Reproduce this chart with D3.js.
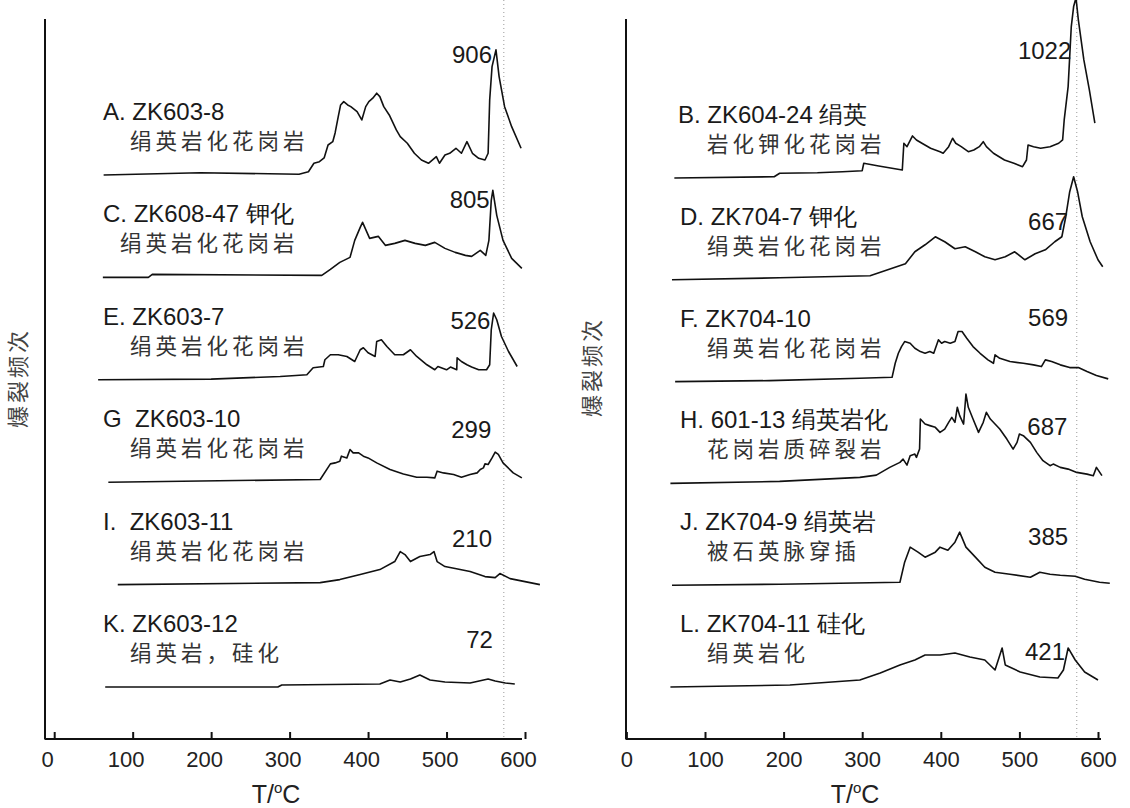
<!DOCTYPE html>
<html>
<head>
<meta charset="utf-8">
<script src="https://cdn.jsdelivr.net/npm/d3@7"></script>
<style>
  body { margin: 0; background: #fff; }
  text { font-family: "Liberation Sans", Arial, sans-serif; white-space: pre; }
  .cjk { font-family: "Noto Sans CJK SC", sans-serif; }
</style>
</head>
<body>
<svg id="chart" width="1130" height="808"></svg>
<script>
// decrepitation curves: [temperature °C, count]
var seriesA = [[63,0],[186,16],[312,5],[324,23],[331,82],[338,93],[344,119],[349,210],[355,233],[358,294],[362,408],[365,490],[369,513],[374,490],[378,478],[386,443],[392,385],[397,478],[401,513],[406,537],[411,572],[415,548],[420,478],[427,420],[436,315],[441,268],[450,222],[459,152],[468,105],[477,82],[487,128],[491,82],[498,140],[504,152],[512,187],[519,152],[526,233],[533,152],[541,117],[549,105],[553,152],[555,525],[558,758],[563,875],[567,688],[574,478],[583,338],[595,187]];
var seriesC = [[62,0],[120,0],[125,21],[341,14],[352,56],[364,105],[377,140],[383,259],[390,350],[393,385],[402,273],[413,287],[422,224],[434,238],[447,259],[460,238],[473,224],[485,245],[498,203],[511,175],[524,154],[532,147],[543,189],[550,154],[554,259],[557,539],[559,609],[564,434],[572,259],[583,133],[596,63]];
var seriesE = [[56,0],[200,5],[288,23],[303,28],[322,35],[330,84],[343,93],[345,140],[352,175],[362,175],[373,163],[383,128],[390,210],[394,224],[400,189],[409,163],[411,268],[417,280],[424,233],[434,175],[445,175],[454,210],[462,163],[475,105],[485,70],[489,93],[500,70],[505,89],[513,70],[513.5,154],[519,128],[526,105],[532,89],[541,70],[551,70],[555,105],[557,350],[560,467],[564,420],[570,303],[579,198],[590,93]];
var seriesG = [[69,0],[339,19],[352,128],[358,135],[364,147],[366,182],[373,170],[377,229],[381,205],[388,205],[394,182],[400,170],[411,135],[428,89],[445,58],[462,35],[475,35],[485,30],[488,77],[496,65],[509,54],[519,35],[530,54],[539,65],[543,89],[547,100],[549,128],[553,124],[558,170],[562,210],[566,194],[572,135],[585,65],[596,30]];
var seriesI = [[81,0],[339,14],[364,35],[390,70],[415,105],[434,161],[441,231],[447,210],[454,161],[466,196],[479,210],[484,231],[488,161],[498,126],[511,112],[530,91],[549,56],[562,49],[568,77],[581,42],[600,21],[619,0]];
var seriesK = [[65,0],[285,0],[290,14],[415,21],[428,49],[441,35],[454,56],[466,84],[479,49],[498,35],[530,28],[553,56],[562,42],[575,28],[587,21]];

var seriesB = [[61,0],[188,9],[195,33],[243,37],[275,44],[300,51],[302,103],[321,84],[351,56],[353,243],[357,219],[364,294],[369,266],[376,243],[387,208],[399,184],[403,173],[410,219],[415,278],[419,243],[426,219],[435,184],[442,196],[449,219],[454,254],[458,219],[467,173],[481,126],[493,103],[504,79],[509,126],[511,231],[518,219],[527,208],[539,219],[550,243],[555,266],[557,406],[562,639],[564,849],[566,1059],[569,1199],[572,1260],[575,1106],[582,826],[589,616],[596,383]];
var seriesD = [[58,0],[195,14],[310,28],[355,112],[367,196],[380,245],[393,301],[405,266],[418,217],[431,231],[444,196],[456,161],[469,140],[482,161],[494,196],[507,140],[520,182],[533,210],[545,266],[554,301],[559,441],[564,616],[569,721],[574,616],[580,441],[590,266],[600,140],[606,91]];
var seriesF = [[62,0],[182,7],[297,23],[338,30],[342,128],[346,198],[350,245],[354,280],[361,268],[367,233],[374,210],[380,198],[386,210],[391,198],[397,292],[401,268],[405,280],[412,268],[418,280],[422,350],[427,350],[433,303],[441,245],[450,198],[460,152],[467,128],[469,187],[475,163],[488,140],[505,128],[518,117],[528,105],[533,152],[541,140],[552,117],[564,98],[575,98],[586,70],[598,42],[613,19]];
var seriesH = [[56,0],[195,14],[297,42],[318,58],[335,112],[348,147],[352,170],[357,128],[361,194],[367,205],[369,182],[373,240],[374,450],[380,415],[386,404],[393,392],[399,357],[405,380],[410,427],[414,462],[418,427],[421,532],[424,474],[429,415],[432,625],[435,532],[441,450],[448,357],[454,427],[458,497],[463,450],[469,415],[475,380],[484,310],[492,240],[497,287],[500,345],[505,334],[514,287],[522,217],[530,159],[539,124],[543,135],[552,112],[562,100],[573,77],[586,65],[594,54],[598,112],[605,54]];
var seriesJ = [[58,0],[195,7],[348,21],[354,161],[361,266],[371,231],[380,196],[393,231],[399,266],[409,245],[418,301],[424,371],[432,266],[444,196],[456,126],[469,91],[488,77],[514,56],[526,91],[539,77],[552,70],[571,63],[583,42],[602,21],[615,14]];
var seriesL = [[56,0],[208,14],[297,49],[323,98],[348,154],[367,189],[380,224],[399,224],[418,238],[437,210],[456,189],[469,119],[478,273],[482,154],[501,105],[526,70],[549,63],[556,119],[562,273],[571,189],[583,105],[600,49]];

var leftSeries = [seriesA, seriesC, seriesE, seriesG, seriesI, seriesK];
var rightSeries = [seriesB, seriesD, seriesF, seriesH, seriesJ, seriesL];

var leftNames = [
  ["A. ZK603-8", "绢英岩化花岗岩"],
  ["C. ZK608-47 钾化", "绢英岩化花岗岩"],
  ["E. ZK603-7", "绢英岩化花岗岩"],
  ["G  ZK603-10", "绢英岩化花岗岩"],
  ["I.  ZK603-11", "绢英岩化花岗岩"],
  ["K. ZK603-12", "绢英岩，硅化"]
];
var rightNames = [
  ["B. ZK604-24 绢英", "岩化钾化花岗岩"],
  ["D. ZK704-7 钾化", "绢英岩化花岗岩"],
  ["F. ZK704-10", "绢英岩化花岗岩"],
  ["H. 601-13 绢英岩化", "花岗岩质碎裂岩"],
  ["J. ZK704-9 绢英岩", "被石英脉穿插"],
  ["L. ZK704-11 硅化", "绢英岩化"]
];
// peak totals and where they are written [T of right end, count level]
var leftPeaks = [["906", 558, 784], ["805", 555, 483], ["526", 556, 357], ["299", 557, 308], ["210", 558, 263], ["72", 559, 273]];
var rightPeaks = [["1022", 566, 833], ["667", 562, 350], ["569", 562, 389], ["687", 561, 339], ["385", 562, 281], ["421", 558, 189]];

var xTicks = [0, 100, 200, 300, 400, 500, 600];
var quartzT = 573;

var svg = d3.select("#chart");

var xL = d3.scaleLinear().domain([0, 600]).range([54.2, 525]);
var xR = d3.scaleLinear().domain([0, 600]).range([626.4, 1098]);
var rowL = d3.scaleLinear().domain([0, 5]).range([175, 687]);
var rowR = d3.scaleLinear().domain([0, 5]).range([178, 687]);
var hgt = d3.scaleLinear().domain([0, 1000]).range([0, 143]);

function panel(x, row, series, names, peaks, axisX, axisEnd, labelDx, line1X, line2X) {
  var g = svg.append("g");

  // quartz transition guide
  g.append("line")
    .attr("x1", x(quartzT)).attr("x2", x(quartzT))
    .attr("y1", 0).attr("y2", 739)
    .style("stroke", "#999").style("stroke-width", 1)
    .style("stroke-dasharray", "1,3");

  // axes
  g.append("line")
    .attr("x1", axisX).attr("x2", axisX).attr("y1", 19).attr("y2", 739.5)
    .style("stroke", "#111").style("stroke-width", 2);
  g.append("line")
    .attr("x1", axisX).attr("x2", axisEnd).attr("y1", 739).attr("y2", 739)
    .style("stroke", "#111").style("stroke-width", 2);

  var ax = g.append("g")
    .attr("transform", "translate(0,739)")
    .call(d3.axisBottom(x).tickValues(xTicks).tickFormat(d3.format("d"))
      .tickSizeInner(-7).tickSizeOuter(0).tickPadding(12));
  ax.select(".domain").remove();
  ax.selectAll(".tick line").style("stroke", "#111").style("stroke-width", 2);
  ax.selectAll(".tick text")
    .attr("dx", labelDx)
    .style("font-family", "Liberation Sans, Arial, sans-serif")
    .style("font-size", "22px").style("fill", "#222");

  var line = function(i) {
    return d3.line()
      .x(function(d) { return x(d[0]); })
      .y(function(d) { return row(i) - hgt(d[1]); });
  };

  series.forEach(function(s, i) {
    g.append("path")
      .attr("d", line(i)(s))
      .style("fill", "none")
      .style("stroke", "#111")
      .style("stroke-width", 1.6)
      .style("stroke-linejoin", "round");

    g.append("text")
      .attr("x", line1X[i]).attr("y", row(i) - 55)
      .style("font-size", "24px").style("fill", "#1a1a1a")
      .text(names[i][0]);
    g.append("text")
      .attr("class", "cjk")
      .attr("x", line2X[i]).attr("y", row(i) - 26)
      .style("font-size", "21.5px").style("fill", "#333")
      .style("letter-spacing", "4px")
      .text(names[i][1]);

    g.append("text")
      .attr("x", x(peaks[i][1])).attr("y", row(i) - hgt(peaks[i][2]))
      .attr("text-anchor", "end")
      .style("font-size", "24px").style("fill", "#1a1a1a")
      .text(peaks[i][0]);
  });
  return g;
}

panel(xL, rowL, leftSeries, leftNames, leftPeaks, 45, 522, -7,
  [103, 103, 103, 103, 103, 103], [130, 120, 130, 130, 130, 130]);
panel(xR, rowR, rightSeries, rightNames, rightPeaks, 626, 1101, 0,
  [678, 680, 680, 680, 680, 680], [707, 707, 707, 707, 707, 707]);

// axis titles
[276, 855].forEach(function(cx) {
  var tt = svg.append("text")
    .attr("x", cx).attr("y", 803)
    .attr("text-anchor", "middle")
    .style("font-size", "25px").style("fill", "#222");
  tt.append("tspan").text("T/");
  tt.append("tspan").attr("dy", -10).style("font-size", "15px").text("o");
  tt.append("tspan").attr("dy", 10).text("C");
});

[[26, 378], [600, 367]].forEach(function(p) {
  svg.append("text")
    .attr("class", "cjk")
    .attr("transform", "translate(" + p[0] + "," + p[1] + ") rotate(-90)")
    .attr("text-anchor", "middle")
    .style("font-size", "22px").style("fill", "#444")
    .style("letter-spacing", "3px")
    .text("爆裂频次");
});
</script>
</body>
</html>
